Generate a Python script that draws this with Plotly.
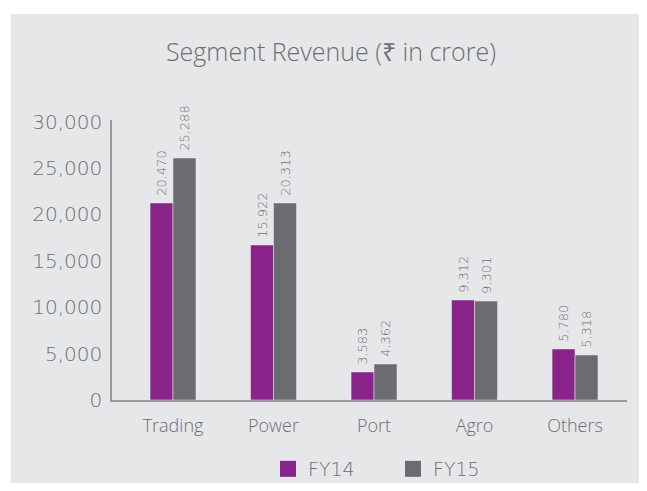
import plotly.graph_objects as go

categories = ["Trading", "Power", "Port", "Agro", "Others"]
fy14_heights = [21240, 16710, 3020, 10780, 5500]
fy15_heights = [26090, 21240, 3880, 10670, 4850]
# value labels as printed above the bars
fy14_labels = ["20,470", "15,922", "3,583", "9,312", "5,780"]
fy15_labels = ["25,288", "20,313", "4,362", "9,301", "5,318"]
y_tickvals = [0, 5000, 10000, 15000, 20000, 25000, 30000]
y_ticktext = ["0", "5,000", "10,000", "15,000", "20,000", "25,000", "30,000"]

PURPLE = "#8B248A"
GREY = "#6B6C70"
TEXT = "#6D6E71"
BG = "#E6E7E9"
WORDS = "Open Sans"
DIGITS = "DejaVu Sans"

fig = go.Figure()
for vals, labels, name, col in [(fy14_heights, fy14_labels, "FY14", PURPLE),
                                (fy15_heights, fy15_labels, "FY15", GREY)]:
    fig.add_trace(go.Bar(x=categories, y=vals, name=name, marker_color=col,
                         text=labels, texttemplate="\u00a0%{text}",
                         textposition="outside", textangle=-90, constraintext="none",
                         textfont=dict(family=DIGITS, size=13, color=TEXT, weight=300),
                         cliponaxis=False, showlegend=False))
# legend entries
fig.add_trace(go.Scatter(x=[None], y=[None], mode="markers", name="FY14",
                         marker=dict(symbol="square", size=16, color=PURPLE)))
fig.add_trace(go.Scatter(x=[None], y=[None], mode="markers", name="FY15",
                         marker=dict(symbol="square", size=16, color=GREY)))

W, H = 639, 475
L, R, T, B = 104, 20, 112, 83
pw, ph = W - L - R, H - T - B

def px2paperx(px):
    return (px - L) / pw

def px2papery(py):
    return (H - B - py) / ph

fig.add_shape(type="rect", xref="paper", yref="paper",
              x0=px2paperx(3), x1=px2paperx(W + 5), y0=px2papery(H + 5), y1=px2papery(6),
              fillcolor=BG, line_width=0, layer="below")

fig.update_layout(
    width=W, height=H,
    margin=dict(l=L, r=R, t=T, b=B, pad=0, autoexpand=False),
    paper_bgcolor="white", plot_bgcolor=BG,
    barmode="group", bargap=0.543, bargroupgap=0,
    font=dict(family=WORDS, color=TEXT, weight=300),
    title=dict(text="Segment Revenue (₹ in crore)", x=323 / W,
               xanchor="center", y=1 - 44 / H, yanchor="middle",
               font=dict(family=WORDS, size=25, color=TEXT, weight=300)),
    legend=dict(orientation="h", x=px2paperx(385), xanchor="center",
                y=px2papery(461), yanchor="middle", entrywidth=80,
                font=dict(family=DIGITS, size=19, color=TEXT, weight=300),
                bgcolor="rgba(0,0,0,0)", itemclick=False),
    showlegend=True,
)
fig.update_xaxes(range=[-0.607, 4.517], showline=True, linecolor="#9B9B9B", linewidth=1.5,
                 showgrid=False, ticks="", zeroline=False, ticklabelstandoff=9,
                 automargin=False,
                 tickfont=dict(family=WORDS, size=18, color=TEXT, weight=300))
fig.update_yaxes(range=[0, 30183], tickvals=y_tickvals, ticktext=y_ticktext,
                 showline=True, linecolor="#9B9B9B", linewidth=1.5,
                 showgrid=False, ticks="", zeroline=False, ticklabelstandoff=4,
                 automargin=False,
                 tickfont=dict(family=DIGITS, size=20, color=TEXT, weight=300))

fig.write_html("out.html")
